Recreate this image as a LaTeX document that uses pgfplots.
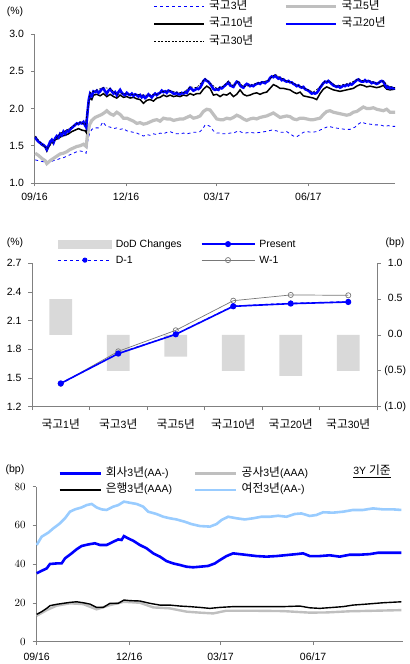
\documentclass[border=0pt]{standalone}
\usepackage{fontspec}
\setmainfont{Liberation Sans}
\newfontfamily\kr[Scale=1.12]{Noto Sans CJK KR}
\usepackage{pgfplots}
\pgfplotsset{compat=1.18}
\newcommand{\K}[1]{{\kr #1}}
\newcommand{\fs}{\fontsize{10.5bp}{12.5bp}\selectfont}
\definecolor{lgray}{RGB}{191,191,191}
\definecolor{bargray}{RGB}{217,217,217}
\definecolor{lblue}{RGB}{153,204,255}
\definecolor{axgray}{RGB}{128,128,128}
\definecolor{wgray}{RGB}{120,120,120}
\pgfplotsset{
  mystyle/.style={scale only axis, anchor=south west,
    axis line style={axgray, line width=0.9bp},
    tick style={axgray, line width=0.9bp},
    tick align=outside, major tick length=3.5bp, minor tick length=3.5bp,
    font=\fs, tick label style={font=\fs, black},
    yticklabel style={xshift=-3.5bp},
    xticklabel style={yshift=-3bp},
    legend cell align=left,
    legend style={draw=none, fill=none, font=\fs, inner sep=0pt, anchor=north west,
      nodes={inner xsep=4bp, inner ysep=0bp, text height=8bp, text depth=2bp}},
  },
  lineleg/.style={legend image code/.code={\draw[##1] (0bp,0bp) -- (#1,0bp);}},
  markleg/.style={legend image code/.code={\draw[mark repeat=2,mark phase=2,##1] plot coordinates {(0bp,0bp) (26.5bp,0bp) (53bp,0bp)};}},
}
\begin{document}
\begin{tikzpicture}
\path (0,0) rectangle (410bp,664bp);
% ---------------- Panel 1 ----------------
\begin{axis}[mystyle, at={(34.5bp,481bp)}, width=360.5bp, height=149bp,
  xmin=103, xmax=1185, ymin=1, ymax=3,
  axis x line*=bottom, axis y line*=left,
  xtick={103,378,650,925}, xticklabels={09/16,12/16,03/17,06/17},
  ytick={1,1.5,2,2.5,3}, yticklabels={1.0,1.5,2.0,2.5,3.0},
  lineleg=50bp, legend columns=2,
  legend style={at={(0.33,1.22)}, row sep=7.5bp,
    /tikz/every even column/.append style={column sep=27bp}},
]
\addplot[blue, line width=0.8bp, dashed] table {
105 1.31
115 1.30
125 1.29
135 1.28
140 1.26
150 1.28
160 1.30
170 1.31
180 1.33
190 1.34
200 1.36
210 1.38
220 1.40
230 1.42
240 1.43
250 1.42
258 1.40
262 1.55
268 1.66
275 1.72
285 1.74
295 1.74
302 1.77
308 1.82
315 1.78
320 1.76
330 1.75
340 1.73
350 1.74
360 1.72
370 1.73
380 1.70
390 1.69
400 1.68
410 1.67
420 1.65
430 1.63
440 1.65
450 1.64
460 1.66
470 1.65
480 1.67
490 1.66
500 1.68
510 1.69
520 1.67
530 1.66
540 1.66
550 1.67
560 1.66
570 1.67
580 1.68
590 1.68
600 1.69
610 1.74
615 1.78
625 1.77
630 1.76
640 1.70
650 1.67
660 1.67
670 1.66
680 1.66
690 1.67
700 1.67
715 1.70
725 1.68
735 1.67
750 1.68
765 1.67
780 1.68
795 1.69
805 1.70
815 1.71
830 1.70
840 1.68
850 1.68
860 1.69
870 1.66
880 1.63
890 1.62
900 1.65
910 1.68
920 1.69
935 1.68
950 1.69
960 1.71
975 1.74
985 1.76
995 1.75
1005 1.74
1020 1.73
1035 1.72
1050 1.72
1065 1.75
1075 1.79
1085 1.82
1095 1.80
1110 1.79
1125 1.78
1140 1.78
1155 1.76
1165 1.77
1175 1.76
1185 1.76
};
\addlegendentry{\K{국고}3\K{년}}
\addplot[lgray, line width=3.2bp] table {
105 1.40
115 1.37
125 1.33
135 1.30
140 1.26
150 1.30
160 1.33
170 1.36
180 1.39
190 1.40
200 1.42
210 1.45
220 1.47
230 1.49
240 1.50
250 1.52
258 1.49
262 1.65
268 1.78
275 1.84
285 1.88
295 1.90
305 1.92
315 1.95
320 1.97
330 1.93
340 1.91
350 1.95
360 1.92
370 1.87
380 1.87
390 1.85
400 1.83
410 1.80
420 1.81
430 1.79
440 1.80
450 1.82
460 1.84
470 1.85
480 1.83
490 1.87
500 1.86
510 1.86
520 1.84
530 1.85
540 1.86
550 1.86
560 1.88
570 1.90
580 1.87
590 1.88
600 1.90
610 1.96
620 1.99
630 1.98
640 1.92
650 1.86
660 1.85
670 1.85
680 1.87
690 1.86
700 1.88
710 1.91
720 1.89
730 1.86
740 1.84
750 1.86
760 1.87
770 1.86
780 1.88
790 1.89
800 1.90
810 1.92
820 1.94
830 1.91
840 1.88
850 1.89
860 1.90
870 1.89
880 1.86
890 1.85
900 1.87
910 1.87
920 1.86
930 1.85
940 1.85
950 1.86
960 1.87
970 1.92
980 1.96
990 1.97
1000 1.95
1010 1.94
1020 1.93
1030 1.92
1040 1.91
1050 1.92
1060 1.95
1070 1.96
1080 1.99
1090 2.02
1100 2.00
1110 2.00
1120 2.01
1130 1.99
1140 1.98
1150 1.97
1160 1.99
1170 1.95
1185 1.95
};
\addlegendentry{\K{국고}5\K{년}}
\addplot[black, line width=1.5bp] table {
105 1.61
115 1.55
125 1.51
135 1.48
140 1.43
145 1.48
155 1.56
165 1.58
175 1.60
185 1.63
195 1.64
205 1.66
215 1.69
225 1.71
235 1.73
245 1.71
255 1.70
258 1.68
262 1.93
266 2.10
270 2.14
275 2.12
280 2.18
290 2.19
300 2.17
310 2.20
320 2.16
330 2.19
340 2.16
350 2.14
360 2.18
370 2.15
380 2.16
390 2.14
400 2.15
410 2.13
420 2.12
430 2.07
440 2.11
450 2.12
460 2.10
470 2.14
480 2.15
490 2.18
500 2.16
510 2.18
520 2.16
530 2.17
540 2.16
550 2.18
560 2.17
570 2.20
580 2.18
590 2.20
600 2.20
610 2.26
620 2.30
630 2.27
640 2.18
650 2.19
660 2.16
670 2.19
680 2.18
690 2.21
700 2.16
710 2.19
720 2.25
730 2.19
740 2.17
750 2.18
760 2.20
770 2.21
780 2.19
790 2.21
800 2.22
810 2.27
820 2.32
830 2.30
840 2.27
850 2.27
860 2.26
870 2.25
880 2.22
890 2.20
900 2.22
910 2.17
920 2.16
930 2.15
940 2.14
950 2.12
960 2.20
970 2.26
980 2.29
990 2.27
1000 2.25
1010 2.24
1020 2.23
1030 2.24
1040 2.25
1050 2.26
1060 2.27
1070 2.30
1080 2.32
1090 2.31
1100 2.29
1110 2.30
1120 2.29
1130 2.28
1140 2.29
1150 2.31
1160 2.26
1170 2.25
1185 2.26
};
\addlegendentry{\K{국고}10\K{년}}
\addplot[blue, line width=2.6bp] table {
105 1.62
110 1.58
115 1.555
120 1.54
125 1.52
130 1.51
135 1.49
140 1.45
145 1.50
150 1.555
155 1.58
160 1.54
165 1.60
170 1.63
175 1.61
180 1.66
185 1.64
190 1.69
195 1.66
200 1.70
205 1.69
210 1.72
215 1.74
220 1.76
225 1.78
230 1.80
235 1.79
240 1.81
245 1.80
250 1.82
255 1.77
258 1.75
262 1.95
266 2.12
270 2.20
275 2.17
280 2.23
285 2.22
290 2.24
295 2.21
300 2.23
305 2.26
310 2.27
315 2.23
320 2.20
325 2.24
330 2.26
335 2.23
340 2.20
345 2.22
350 2.18
355 2.22
360 2.25
365 2.21
370 2.19
375 2.18
380 2.21
385 2.19
390 2.18
395 2.20
400 2.17
405 2.19
410 2.18
415 2.16
420 2.18
425 2.15
430 2.17
435 2.14
440 2.16
445 2.19
450 2.17
455 2.15
460 2.18
465 2.20
470 2.18
475 2.20
480 2.21
485 2.24
490 2.22
495 2.23
500 2.21
505 2.24
510 2.23
515 2.22
520 2.20
525 2.20
530 2.21
535 2.19
540 2.19
545 2.21
550 2.20
555 2.22
560 2.21
565 2.25
570 2.28
575 2.26
580 2.24
585 2.25
590 2.27
595 2.26
600 2.28
605 2.32
610 2.37
615 2.39
620 2.37
625 2.36
630 2.33
635 2.30
640 2.26
645 2.25
650 2.26
655 2.25
660 2.28
665 2.27
670 2.29
675 2.31
680 2.33
685 2.35
690 2.31
695 2.30
700 2.29
705 2.33
710 2.36
715 2.35
720 2.31
725 2.29
730 2.28
735 2.31
740 2.33
745 2.32
750 2.30
755 2.31
760 2.30
765 2.32
770 2.33
775 2.34
780 2.33
785 2.35
790 2.35
795 2.34
800 2.36
805 2.37
810 2.41
815 2.43
820 2.42
825 2.44
830 2.42
835 2.40
840 2.41
845 2.38
850 2.39
855 2.37
860 2.36
865 2.37
870 2.35
875 2.35
880 2.33
885 2.32
890 2.30
895 2.31
900 2.29
905 2.28
910 2.29
915 2.26
920 2.25
925 2.24
930 2.22
935 2.20
940 2.21
945 2.20
950 2.21
955 2.24
960 2.28
965 2.31
970 2.34
975 2.36
980 2.35
985 2.37
990 2.35
995 2.33
1000 2.31
1005 2.30
1010 2.29
1015 2.30
1020 2.28
1025 2.29
1030 2.31
1035 2.30
1040 2.32
1045 2.31
1050 2.33
1055 2.32
1060 2.34
1065 2.36
1070 2.38
1075 2.39
1080 2.37
1085 2.36
1090 2.36
1095 2.38
1100 2.36
1105 2.37
1110 2.36
1115 2.34
1120 2.35
1125 2.34
1130 2.33
1135 2.34
1140 2.36
1145 2.37
1150 2.36
1155 2.32
1160 2.28
1165 2.29
1170 2.27
1175 2.28
1180 2.27
1185 2.27
};
\addlegendentry{\K{국고}20\K{년}}
\addplot[black, line width=0.6bp, dash pattern=on 2bp off 1.5bp] table {
105 1.63
120 1.55
140 1.46
160 1.55
180 1.67
200 1.71
220 1.77
240 1.82
255 1.78
262 1.96
270 2.21
290 2.25
310 2.28
330 2.27
350 2.19
370 2.20
390 2.19
410 2.19
430 2.18
450 2.18
470 2.19
490 2.23
510 2.24
530 2.22
550 2.21
570 2.29
590 2.28
615 2.40
630 2.34
650 2.27
670 2.30
685 2.37
700 2.30
715 2.37
730 2.29
750 2.31
770 2.34
790 2.36
805 2.38
825 2.46
840 2.42
860 2.37
880 2.34
900 2.30
920 2.26
940 2.22
960 2.29
975 2.37
990 2.36
1010 2.30
1030 2.32
1050 2.34
1075 2.40
1090 2.37
1110 2.37
1130 2.34
1150 2.37
1165 2.30
1185 2.28
};
\addlegendentry{\K{국고}30\K{년}}
\end{axis}
\node at (15bp,652bp) {\fs(\%)};
% ---------------- Panel 2 ----------------
\begin{axis}[mystyle, at={(32bp,257.3bp)}, width=345bp, height=143.4bp,
  xmin=-0.5, xmax=5.5, ymin=-1, ymax=1,
  axis y line*=right, axis x line=none,
  ytick={-1,-0.5,0,0.5,1},
  yticklabels={(1.0),(0.5),0.0\phantom{)},0.5\phantom{)},1.0\phantom{)}},
  yticklabel style={xshift=3.5bp, text width=22bp, align=right},
]
\addplot[ybar, bar width=22.7bp, fill=bargray, draw=none] coordinates {(0,0.5) (1,-0.5) (2,-0.3) (3,-0.5) (4,-0.57) (5,-0.5)};
\end{axis}
\begin{axis}[mystyle, at={(32bp,257.3bp)}, width=345bp, height=143.4bp,
  xmin=-0.5, xmax=5.5, ymin=1.2, ymax=2.7,
  axis y line*=left, axis x line*=bottom,
  xtick={-0.5,0.5,1.5,2.5,3.5,4.5,5.5}, x tick label as interval,
  xticklabel style={yshift=-2bp},
  xticklabels={\K{국고}1\K{년},\K{국고}3\K{년},\K{국고}5\K{년},\K{국고}10\K{년},\K{국고}20\K{년},\K{국고}30\K{년},},
  ytick={1.2,1.5,1.8,2.1,2.4,2.7}, yticklabels={1.2,1.5,1.8,2.1,2.4,2.7},
  legend columns=2,
  legend style={at={(0.075,1.17)}, row sep=6bp,
    /tikz/every even column/.append style={column sep=15bp}},
]
\addlegendimage{legend image code/.code={\fill[bargray] (0bp,-4bp) rectangle (53bp,4bp);}}
\addlegendentry{DoD Changes}
\addlegendimage{markleg, blue, line width=1.6bp, mark=*, mark size=2.2bp, mark options={solid, fill=blue}}
\addlegendentry{Present}
\addlegendimage{markleg, blue, line width=0.7bp, dashed, mark=*, mark size=2.2bp, mark options={solid, fill=blue}}
\addlegendentry{D-1}
\addlegendimage{markleg, wgray, line width=0.7bp, mark=o, mark size=2.6bp, mark options={solid, fill=white}}
\addlegendentry{W-1}
\addplot[forget plot, wgray, line width=0.7bp, mark=o, mark size=2.6bp, mark options={solid, fill=white}] coordinates {(0,1.44) (1,1.779) (2,1.999) (3,2.309) (4,2.369) (5,2.365)};
\addplot[forget plot, blue, line width=0.7bp, dashed, mark=*, mark size=2.2bp, mark options={solid, fill=blue}] coordinates {(0,1.439) (1,1.760) (2,1.960) (3,2.255) (4,2.284) (5,2.300)};
\addplot[forget plot, blue, line width=1.6bp, mark=*, mark size=2.2bp, mark options={solid, fill=blue}] coordinates {(0,1.444) (1,1.755) (2,1.957) (3,2.250) (4,2.278) (5,2.295)};
\end{axis}
\node at (15bp,421bp) {\fs(\%)};
\node at (395bp,421bp) {\fs(bp)};
% ---------------- Panel 3 ----------------
\begin{axis}[mystyle, at={(36bp,22.3bp)}, width=367bp, height=155bp,
  xmin=108, xmax=1210, ymin=0, ymax=80,
  axis x line*=bottom, axis y line*=left,
  xtick={110,388,662,940}, xticklabels={09/16,12/16,03/17,06/17},
  xticklabel style={yshift=-1bp},
  ytick={0,20,40,60,80},
  lineleg=41bp, legend columns=2,
  legend style={at={(0.06,1.12)}, row sep=6.5bp,
    /tikz/every even column/.append style={column sep=18bp}},
]
\addplot[blue, line width=2.6bp] table {
110 35.3
125 36.6
140 37.8
150 40.1
170 40.4
185 40.4
195 43.0
215 45.6
230 47.7
245 49.4
265 50.2
285 50.8
300 49.9
320 49.9
340 51.6
355 52.8
365 52.5
372 54.5
385 53.3
400 52.1
420 49.9
440 48.2
460 45.6
480 43.9
500 41.6
520 40.4
540 39.6
560 38.7
580 38.4
600 38.7
625 39.1
645 40.4
660 42.1
680 44.2
700 45.6
720 45.2
745 44.7
770 44.2
800 43.9
830 44.2
860 44.7
890 45.2
910 45.6
930 44.2
960 44.2
990 44.6
1020 43.9
1050 44.9
1080 44.9
1110 45.2
1135 45.9
1160 45.9
1205 45.9
};
\addlegendentry{\K{회사}3\K{년}(AA-)}
\addplot[lgray, line width=2.4bp] table {
110 13.4
140 16.3
170 18.6
210 19.8
250 19.4
290 16.7
330 18.9
372 20.6
420 20.1
460 17.7
510 17.2
560 15.5
600 15.0
640 14.6
680 16.0
750 16.0
850 15.8
930 15.0
980 15.1
1050 15.7
1130 16.0
1205 16.3
};
\addlegendentry{\K{공사}3\K{년}(AAA)}
\addplot[black, line width=1.4bp] table {
110 14.1
125 15.5
140 17.2
150 18.6
170 19.3
190 19.8
210 20.3
230 20.6
250 20.1
270 19.4
290 17.7
310 17.7
330 19.8
355 19.8
372 21.5
390 21.2
420 21.0
450 19.8
480 18.9
510 18.9
540 18.4
570 18.1
600 17.7
630 17.2
660 17.7
700 18.1
750 18.1
800 18.1
850 18.1
900 18.4
930 17.5
960 17.2
1000 17.7
1030 18.1
1060 18.9
1100 19.4
1150 20.1
1205 20.6
};
\addlegendentry{\K{은행}3\K{년}(AAA)}
\addplot[lblue, line width=2.6bp] table {
110 49.9
125 54.2
145 56.3
160 58.5
180 61.1
195 63.7
210 67.1
225 68.3
245 69.3
260 70.5
275 71.1
290 69.3
305 68.3
320 68.0
340 69.7
355 70.5
372 72.3
390 71.7
410 71.1
430 69.7
445 67.1
470 65.9
490 64.5
510 63.7
530 63.1
555 61.9
575 60.7
600 59.7
630 59.4
650 60.7
665 62.8
685 64.5
710 63.7
735 63.1
760 63.7
785 64.5
810 64.5
835 65.0
860 64.5
885 65.9
905 66.2
930 64.9
950 65.4
970 66.8
1000 66.6
1030 67.1
1060 68.0
1090 68.0
1120 68.8
1150 68.3
1180 68.3
1205 68.0
};
\addlegendentry{\K{여전}3\K{년}(AA-)}
\end{axis}
\node at (15bp,194bp) {\fs(bp)};
\node at (372bp,192.5bp) {\fs\underline{3Y \K{기준}}};
\end{tikzpicture}
\end{document}
